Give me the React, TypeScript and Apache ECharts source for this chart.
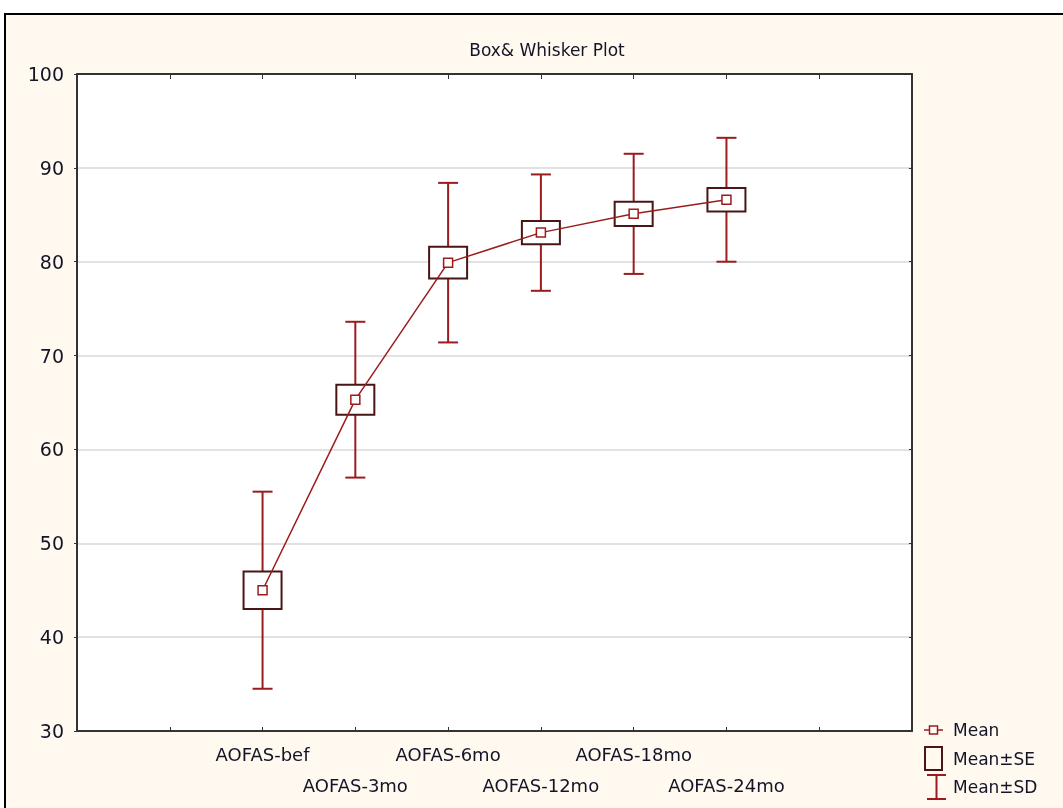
import React, { useEffect, useRef } from "react";
import * as echarts from "echarts";

const categories = ["AOFAS-bef", "AOFAS-3mo", "AOFAS-6mo", "AOFAS-12mo", "AOFAS-18mo", "AOFAS-24mo"];
const means = [45.0, 65.3, 79.9, 83.1, 85.1, 86.6];
const se = [2.0, 1.6, 1.7, 1.25, 1.3, 1.25];
const sd = [10.5, 8.3, 8.5, 6.2, 6.4, 6.6];
const yTicks = [30, 40, 50, 60, 70, 80, 90, 100];

const slotOffset = 2; // first category sits on the 3rd slot of the x scale
const slotCount = 9;

const RED = "#9b1c1c";
const BROWN = "#4a1515";
const TEXT = "#141428";
const FONT = "DejaVu Sans";

export default function App() {
  const ref = useRef<HTMLDivElement>(null);

  useEffect(() => {
    if (!ref.current) return;
    const chart = echarts.init(ref.current, undefined, { renderer: "svg" });

    const meanData = categories.map((_, i) => [i + slotOffset, means[i]]);
    const seData = categories.map((_, i) => [i + slotOffset, means[i] - se[i], means[i] + se[i]]);
    const sdData = categories.map((_, i) => [i + slotOffset, means[i] - sd[i], means[i] + sd[i]]);

    const labelFor = (v: number) => {
      const idx = Math.round(v) - slotOffset;
      if (idx < 0 || idx >= categories.length) return "";
      return idx % 2 === 0 ? categories[idx] : "\n" + categories[idx];
    };

    const axisLine = { show: true, onZero: false, lineStyle: { color: "#333", width: 2 } };

    const option: any = {
      animation: false,
      title: {
        text: "Box& Whisker Plot",
        left: 542,
        textAlign: "center",
        top: 36,
        textStyle: { fontFamily: FONT, fontSize: 17, fontWeight: "normal", color: TEXT },
      },
      graphic: [
        {
          type: "rect",
          z: -10,
          silent: true,
          shape: { x: 5, y: 14, width: 1100, height: 850 },
          style: { fill: "#fff9ef", stroke: "#000", lineWidth: 2 },
        },
        // legend
        { type: "line", shape: { x1: 924, y1: 730, x2: 943, y2: 730 }, style: { stroke: RED, lineWidth: 1.5 } },
        { type: "rect", shape: { x: 929.5, y: 726, width: 8, height: 8 }, style: { fill: "#fff", stroke: RED, lineWidth: 1.5 } },
        { type: "text", x: 953, y: 730, style: { text: "Mean", fontFamily: FONT, fontSize: 17, fill: TEXT, verticalAlign: "middle" } },
        { type: "rect", shape: { x: 925, y: 747, width: 17, height: 23 }, style: { fill: "none", stroke: BROWN, lineWidth: 2 } },
        { type: "text", x: 953, y: 759, style: { text: "Mean±SE", fontFamily: FONT, fontSize: 17, fill: TEXT, verticalAlign: "middle" } },
        { type: "line", shape: { x1: 927, y1: 775, x2: 946, y2: 775 }, style: { stroke: RED, lineWidth: 2 } },
        { type: "line", shape: { x1: 936.5, y1: 775, x2: 936.5, y2: 799 }, style: { stroke: RED, lineWidth: 2 } },
        { type: "line", shape: { x1: 927, y1: 799, x2: 946, y2: 799 }, style: { stroke: RED, lineWidth: 2 } },
        { type: "text", x: 953, y: 787, style: { text: "Mean±SD", fontFamily: FONT, fontSize: 17, fill: TEXT, verticalAlign: "middle" } },
      ],
      grid: {
        left: 77,
        right: 151,
        top: 74,
        bottom: 77,
        show: true,
        backgroundColor: "#ffffff",
        borderWidth: 0,
      },
      xAxis: [
        {
          type: "value",
          min: 0,
          max: slotCount,
          interval: 1,
          position: "bottom",
          axisLine,
          axisTick: { show: true, inside: true, length: 4, lineStyle: { color: "#333" } },
          splitLine: { show: false },
          axisLabel: {
            show: true,
            formatter: labelFor,
            margin: 8,
            fontFamily: FONT,
            fontSize: 18,
            lineHeight: 31,
            color: TEXT,
          },
        },
        {
          type: "value",
          min: 0,
          max: slotCount,
          interval: 1,
          position: "top",
          axisLine,
          axisTick: { show: true, inside: true, length: 5, lineStyle: { color: "#333" } },
          splitLine: { show: false },
          axisLabel: { show: false },
        },
      ],
      yAxis: [
        {
          type: "value",
          min: yTicks[0],
          max: yTicks[yTicks.length - 1],
          interval: 10,
          position: "left",
          axisLine,
          axisTick: { show: true, inside: false, length: 3, lineStyle: { color: "#333" } },
          splitLine: { show: true, lineStyle: { color: "#d9d9d9", width: 1.5 } },
          axisLabel: { margin: 13, fontFamily: FONT, fontSize: 19, color: TEXT },
        },
        {
          type: "value",
          min: yTicks[0],
          max: yTicks[yTicks.length - 1],
          interval: 10,
          position: "right",
          axisLine,
          axisTick: { show: true, inside: true, length: 3, lineStyle: { color: "#333" } },
          splitLine: { show: false },
          axisLabel: { show: false },
        },
      ],
      series: [
        {
          name: "Mean±SD",
          type: "custom",
          z: 2,
          data: sdData,
          renderItem: (_params: any, api: any) => {
            const x = api.value(0);
            const pLo = api.coord([x, api.value(1)]);
            const pHi = api.coord([x, api.value(2)]);
            const half = 10;
            const st = { stroke: RED, lineWidth: 2 };
            return {
              type: "group",
              children: [
                { type: "line", shape: { x1: pHi[0], y1: pHi[1], x2: pLo[0], y2: pLo[1] }, style: st },
                { type: "line", shape: { x1: pHi[0] - half, y1: pHi[1], x2: pHi[0] + half, y2: pHi[1] }, style: st },
                { type: "line", shape: { x1: pLo[0] - half, y1: pLo[1], x2: pLo[0] + half, y2: pLo[1] }, style: st },
              ],
            };
          },
        },
        {
          name: "Mean±SE",
          type: "custom",
          z: 3,
          data: seData,
          renderItem: (_params: any, api: any) => {
            const x = api.value(0);
            const pLo = api.coord([x, api.value(1)]);
            const pHi = api.coord([x, api.value(2)]);
            const w = 38;
            return {
              type: "rect",
              shape: { x: pHi[0] - w / 2, y: pHi[1], width: w, height: pLo[1] - pHi[1] },
              style: { fill: "#ffffff", stroke: BROWN, lineWidth: 2 },
            };
          },
        },
        {
          name: "Mean",
          type: "line",
          z: 4,
          data: meanData,
          symbol: "rect",
          symbolSize: 9,
          showAllSymbol: true,
          lineStyle: { color: RED, width: 1.5 },
          itemStyle: { color: "#ffffff", borderColor: RED, borderWidth: 1.5 },
        },
      ],
    };

    chart.setOption(option);
    return () => chart.dispose();
  }, []);

  return (
    <div
      ref={ref}
      style={{ position: "fixed", left: 0, top: 0, width: 1063, height: 808 }}
    />
  );
}
